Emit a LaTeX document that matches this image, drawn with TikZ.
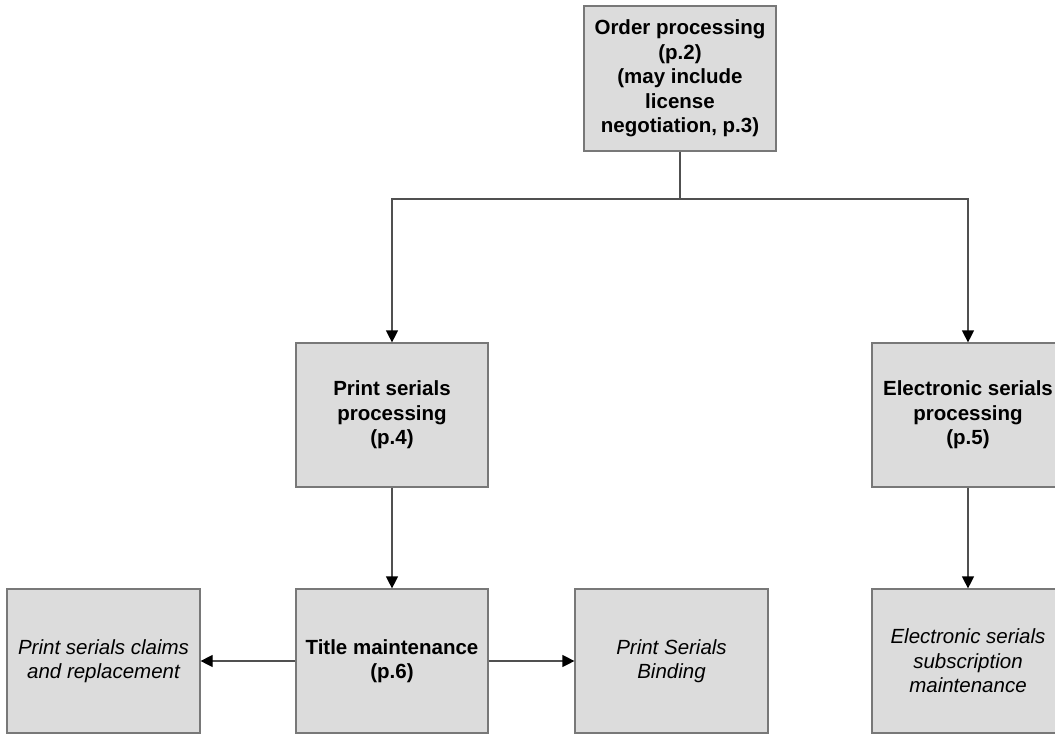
\documentclass[tikz,border=0pt]{standalone}
\usepackage{fontspec}
\setmainfont{Liberation Sans}
\usetikzlibrary{positioning, arrows.meta, calc}
\definecolor{boxfill}{RGB}{220,220,220}
\definecolor{boxline}{RGB}{120,120,120}
\definecolor{linkcol}{RGB}{80,80,80}

\begin{document}
\begin{tikzpicture}[x=1pt, y=-1pt,
    procbox/.style={draw=boxline, fill=boxfill, line width=1.2pt,
      minimum width=192pt, minimum height=144pt, inner sep=0pt,
      align=center, font=\fontsize{20.5}{24.5}\selectfont},
    mainbox/.style={procbox, font=\fontsize{20.5}{24.5}\selectfont\bfseries},
    subbox/.style={procbox, font=\fontsize{20.5}{24.5}\selectfont\itshape},
    link/.style={draw=linkcol, line width=1.2pt,
      -{Triangle[length=12pt, width=12pt, black]}}]

        % Page frame
        \useasboundingbox (0,0) rectangle (1055,734);

        % Top level
        \node[mainbox, minimum height=145pt] (order) at (680,78.5)
          {Order processing\\(p.2)\\(may include\\license\\negotiation, p.3)};
        \coordinate (split) at (680,199);

        % Second level
        \node[mainbox] (print) at (392,415) {Print serials\\processing\\(p.4)};
        \node[mainbox] (eserial) at (968,415) {Electronic serials\\processing\\(p.5)};

        % Third level
        \node[mainbox] (title) at (392,661) {Title maintenance\\(p.6)};
        \node[subbox, minimum width=193pt] (claims) at (103.5,661)
          {Print serials claims\\and replacement};
        \node[subbox, minimum width=193pt] (binding) at (671.5,661)
          {Print Serials\\Binding};
        \node[subbox] (esub) at (968,661)
          {Electronic serials\\subscription\\maintenance};

        % Connectors
        \draw[draw=linkcol, line width=1.2pt] (order) -- (split);
        \draw[link] (split) -| (print);
        \draw[link] (split) -| (eserial);
        \draw[link] (print) -- (title);
        \draw[link] (eserial) -- (esub);
        \draw[link] (title) -- (claims);
        \draw[link] (title) -- (binding);

      \end{tikzpicture}
\end{document}
